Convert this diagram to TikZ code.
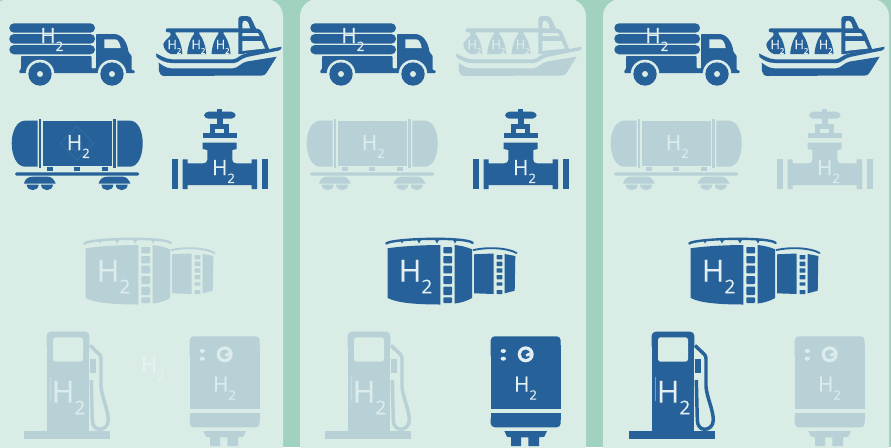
\documentclass[tikz,border=0pt]{standalone}
\usepackage{xcolor}
\usepackage{fontspec}
\usepackage{tikz}
\newfontfamily\htwofont[FakeBold=0.25]{Open Sans}
\definecolor{gutter}{HTML}{A0D2BF}
\definecolor{panel}{HTML}{D9ECE5}
\definecolor{icondark}{HTML}{26619A}
\definecolor{iconpale}{HTML}{B7D1D6}
\definecolor{textdark}{HTML}{E3EFF3}
\definecolor{textpale}{HTML}{DCECEC}
\definecolor{textfree}{HTML}{E4F1F5}
\newcommand{\htwotext}[1]{\fontsize{#1}{#1}\selectfont H\raisebox{-0.38em}{\fontsize{0.62\dimexpr#1pt\relax}{1pt}\selectfont 2}}

\begin{document}
\begin{tikzpicture}[x=0.75pt, y=-0.75pt,
  lit/.code={\colorlet{ic}{icondark}\colorlet{it}{textdark}},
  pale/.code={\colorlet{ic}{iconpale}\colorlet{it}{textpale}},
  gas/.style={text=it, inner sep=0pt, anchor=base west, font=\htwofont},
  sheet/.style={fill=panel, rounded corners=13pt},
  pics/truck/.style={code={
    \foreach \i/\ya/\yb in {1/23.3/32.7, 2/34/43.7, 3/45/54.3}
      \fill[ic, rounded corners=3.5pt] (9.3,\ya) rectangle (95,\yb);
    \fill[ic, rounded corners=0.6pt] (96,34) -- (113,34) .. controls (122,34) and (127,42) .. (128.5,52) -- (131.7,56) -- (131.7,70) -- (134.7,70.5) -- (134.7,73) -- (19.3,73) -- (19.3,70.5) -- (21,69) -- (21,56) -- (91.5,56) -- (91.5,68.3) -- (96,68.3) -- cycle;
    \fill[panel] (104.3,39.3) -- (115,39.3) .. controls (118,39.3) and (120,43) .. (120.7,48) -- (104.3,48) -- cycle;
    \foreach \cx in {40,112} {
      \fill[panel] (\cx,74) circle[radius=14.3];
      \fill[ic] (\cx,74) circle[radius=11.7];
      \fill[panel] (\cx,74) circle[radius=3];
    }
    \node[gas] (label) at (40,43) {\htwotext{15.75}};
  }},
  pics/ship/.style={code={
    \fill[ic, rounded corners=1.5pt] (165.7,28.3) rectangle (240,32.3);
    \fill[ic] (170,32) -- (175.5,32) -- (175.5,34) .. controls (179,38) and (182,46) .. (182.3,54) -- (171,54) .. controls (167,53) and (163,48) .. (163.3,44) .. controls (165,40) and (169,38) .. (170.7,35) -- cycle;
    \foreach \cx in {196.7,221}
      \fill[ic] (\cx-2.7,32) -- (\cx+2.7,32) -- (\cx+2.7,34) .. controls (\cx+6,38) and (\cx+9,46) .. (\cx+9.5,54) -- (\cx-9.5,54) .. controls (\cx-9,46) and (\cx-6,38) .. (\cx-2.7,34) -- cycle;
    \fill[ic] (238.3,33) -- (238.3,19) .. controls (238.3,17) and (240,16) .. (242,16) -- (247,16) .. controls (250,16) and (251,17.5) .. (252,20) -- (256,28.5) .. controls (260,29) and (262,31) .. (263,34) -- (269.5,50) -- (242,54) -- (238.3,54) -- cycle;
    \fill[panel] (242.3,28.3) -- (242.3,24) .. controls (242.3,21.5) and (243.5,20.7) .. (245.5,20.7) .. controls (247.5,20.7) and (248.3,22) .. (250,28.3) -- cycle;
    \fill[panel] (242.3,33) -- (258,33) -- (259.5,36) -- (242.3,36) -- cycle;
    \fill[panel] (242.3,41) -- (261.5,41) -- (265,48.5) -- (242.3,51) -- cycle;
    \fill[ic] (156,53.5) .. controls (160,55) and (165,59) .. (172,59.3) -- (233,59.3) .. controls (237,59.3) and (240,54.5) .. (246,53.5) -- (281.5,46.7) .. controls (282,48) and (281,50) .. (279,50.5) -- (247,57) .. controls (241,58.5) and (238,63) .. (234,63) -- (172,63) .. controls (165,63) and (160,60) .. (156.5,57) -- cycle;
    \fill[ic] (158.7,62.7) .. controls (162,65) and (166,68.3) .. (171,68.3) -- (233,68.3) .. controls (238,68.3) and (241,62.5) .. (247,61.5) -- (276.7,56.7) -- (267,72) .. controls (266,74.5) and (264,75.5) .. (262,75.5) -- (165,76) .. controls (161,76) and (159.5,74) .. (159,71) -- cycle;
    \foreach \i/\cx in {1/172.7,2/196.7,3/221}
      \node[gas] (label\i) at (\cx-5.5,49) {\htwotext{9.5}};
  }},
  pics/wagon/.style={code={
    \fill[ic] (37.7,120.7) -- (25,120.7) .. controls (17,120.7) and (11.7,131) .. (11.7,143.3) .. controls (11.7,156) and (17,166.7) .. (25,166.7) -- (37.7,166.7) -- cycle;
    \fill[ic] (39,119) rectangle (41.3,167.7);
    \fill[ic] (43.3,120.7) rectangle (112,166);
    \fill[ic] (113,119) rectangle (116,167.7);
    \fill[ic] (117.3,120.7) -- (130,120.7) .. controls (138,120.7) and (142.7,131) .. (142.7,143.3) .. controls (142.7,156) and (138,166.7) .. (130,166.7) -- (117.3,166.7) -- cycle;
    \foreach \cx in {47,74,102}
      \fill[ic] (\cx,167) rectangle (\cx+6,170.7);
    \fill[ic, rounded corners=1.2pt] (15,172.3) rectangle (139.3,175.7);
    \foreach \dx in {0,74.7} {
      \fill[ic] (24+\dx,183.5) .. controls (25+\dx,179) and (28+\dx,176.7) .. (33+\dx,176.7) -- (48+\dx,176.7) .. controls (51+\dx,176.7) and (54+\dx,179) .. (55.7+\dx,183.5) -- cycle;
      \fill[ic] (26.7+\dx,184.5) .. controls (27+\dx,192) and (38.4+\dx,192) .. (38.7+\dx,184.5) -- cycle;
      \fill[ic] (41+\dx,184.5) .. controls (41.3+\dx,192) and (52.7+\dx,192) .. (53+\dx,184.5) -- cycle;
    }
    \draw[it!15!ic, line width=0.3pt] (77,126.3) -- (93.7,143.3) -- (77,160.3) -- (60.3,143.3) -- cycle;
    \draw[it!15!ic, line width=0.3pt] (77,146) circle[radius=5.3];
    \node[gas] (label) at (66.5,150) {\htwotext{15.75}};
  }},
  pics/valve/.style={code={
    \fill[ic] (217,109.3) rectangle (222,113);
    \fill[ic, rounded corners=3.3pt] (204,111.7) rectangle (235.7,118.7);
    \fill[ic] (217.3,118) rectangle (222.7,124.5);
    \fill[ic] (210,124) rectangle (229.3,133.5);
    \fill[panel] (215,129) rectangle (224.3,132.7);
    \fill[ic] (202.7,133) rectangle (236.7,138);
    \fill[ic] (202.7,142.7) -- (236.7,142.7) -- (236.7,149) -- (232.3,150) -- (232.3,160) .. controls (232.3,162) and (234,163.3) .. (236,163.3) -- (251.7,163.3) -- (251.7,159.3) -- (257,159.3) -- (257,189) -- (251.7,189) -- (251.7,185) -- (187.7,185) -- (187.7,189) -- (182.7,189) -- (182.7,159.3) -- (187.7,159.3) -- (187.7,163.3) -- (203.3,163.3) .. controls (205.5,163.3) and (207.3,162) .. (207.3,160) -- (207.3,150) -- (202.7,149) -- cycle;
    \fill[ic] (172,159) rectangle (178,189);
    \fill[ic] (262,159) rectangle (268,189);
    \node[gas] (label) at (211.7,175) {\htwotext{15.75}};
  }},
  pics/tanks/.style={code={
    \fill[ic] (85.7,248.3) .. controls (100,246) and (125,245) .. (138.3,245) -- (138.3,304.5) .. controls (115,304.5) and (95,303) .. (85.7,298) -- cycle;
    \foreach \ya/\yb in {247/253.3, 256/263.3, 265.7/273.3, 276/284, 286.7/295, 297.3/303}
      \fill[ic, rounded corners=0.6pt] (141.3,\ya) rectangle (150,\yb);
    \fill[ic] (152.7,245) .. controls (158,245.5) and (165,247) .. (170,249.3) -- (170,298) .. controls (165,301) and (158,303) .. (152.7,303.5) -- cycle;
    \draw[ic, line width=1.8pt, line cap=round] (84.3,243.5) .. controls (90,238.3) and (165,236.5) .. (170.7,243);
    \foreach \cx in {100,117,135,153}
      \fill[ic] (\cx-2,240) -- (\cx+2,240) -- (\cx,243.5) -- cycle;
    \fill[ic] (172,254.3) -- (191.7,253.5) -- (191.7,294) -- (172,293.3) -- cycle;
    \foreach \ya/\yb in {255/259.3, 261.7/266, 268.3/272.7, 275/279.3, 282.3/285.7, 290/294}
      \fill[ic, rounded corners=0.3pt] (194.7,\ya) rectangle (200.3,\yb);
    \fill[ic] (202.7,254) -- (213.3,256) -- (212.7,290.7) -- (202.7,293.3) -- cycle;
    \draw[ic, line width=1.4pt, line cap=round] (171.5,250) .. controls (185,247) and (205,247.5) .. (214.5,253);
    \node[gas] (label) at (96.5,281.7) {\htwotext{23}};
  }},
  pics/pump/.style={code={
    \fill[ic] (24,431) rectangle (110,439);
    \fill[ic, rounded corners=3pt] (46.7,331.7) rectangle (89.3,350);
    \fill[ic] (46.7,340) rectangle (89.3,431);
    \fill[panel, rounded corners=2pt] (53,337.3) rectangle (83,361.7);
    \fill[panel!45!ic] (50.4,377) rectangle (50.7,401);
    \draw[ic, line width=2.6pt, line join=round] (90,345.5) -- (99.5,354.5) .. controls (100.5,355.5) and (101,357) .. (101,359) -- (101,386.7) .. controls (102,398) and (108.3,410) .. (108.3,420) .. controls (108.3,426) and (104,429.3) .. (99.5,429.3) .. controls (95,429.3) and (92.3,425) .. (92.3,420) -- (91.3,380);
    \fill[ic] (90.3,359.3) -- (96.3,359.3) -- (96.3,373.3) -- (90.3,373.3) -- cycle;
    \node[gas] (label) at (51.5,402.7) {\htwotext{23}};
  }},
  pics/heater/.style={code={
    \fill[ic, rounded corners=3pt] (189.7,336.3) rectangle (259.7,360);
    \fill[ic] (189.7,345) rectangle (259.7,409);
    \fill[ic] (189.7,412.7) rectangle (259.7,420);
    \fill[ic, rounded corners=3pt] (189.7,415) rectangle (259.7,427.3);
    \fill[ic] (203.3,431) -- (246,431) -- (243.3,436.7) -- (238,437.3) -- (238,446) -- (227.3,446) -- (227.3,437.3) -- (220,437.3) -- (220,446) -- (210,446) -- (210,437.3) -- (206,436.7) -- cycle;
    \fill[it] (224.7,354.3) circle[radius=8];
    \fill[ic] (224.7,354.3) circle[radius=4.8];
    \fill[it] (224.7,354.3) -- (229.5,352) -- (229.5,355.5) -- (225.5,356.5) -- cycle;
    \fill[it] (202.3,351) ellipse[x radius=2.7, y radius=2];
    \fill[it] (202.3,358.7) ellipse[x radius=2.7, y radius=2];
    \node[gas] (label) at (212.7,391.7) {\htwotext{15.75}};
  }}
]
  \useasboundingbox (0,0) rectangle (891,447);
  \clip (0,0) rectangle (891,447);
  \fill[gutter] (0,0) rectangle (891,447);

  \path[sheet] (-8,-1) rectangle (283,470);
  \path[sheet] (300,-1) rectangle (586,470);
  \path[sheet] (603,-1) rectangle (889,470);

  % first panel
  \pic[lit] (truckA) at (0,0) {truck};
  \pic[lit] (shipA) at (0,0) {ship};
  \pic[lit] (wagonA) at (0,0) {wagon};
  \pic[lit] (valveA) at (0,0) {valve};
  \pic[pale] (tanksA) at (0,0) {tanks};
  \pic[pale] (pumpA) at (0,0) {pump};
  \pic[pale] (heaterA) at (0,0) {heater};
  \node[gas, text=textfree] (freegas) at (140.5,372) {\htwotext{16.5}};

  % second panel
  \pic[lit] (truckB) at (301,0) {truck};
  \pic[pale] (shipB) at (300,0) {ship};
  \pic[pale] (wagonB) at (295,0) {wagon};
  \pic[lit] (valveB) at (301,0) {valve};
  \pic[lit] (tanksB) at (302,0) {tanks};
  \pic[pale] (pumpB) at (301,0) {pump};
  \pic[lit] (heaterB) at (301,0) {heater};

  % third panel
  \pic[lit] (truckC) at (605,0) {truck};
  \pic[lit] (shipC) at (603,0) {ship};
  \pic[pale] (wagonC) at (599,0) {wagon};
  \pic[pale] (valveC) at (605,0) {valve};
  \pic[lit] (tanksC) at (605,0) {tanks};
  \pic[lit] (pumpC) at (605,0) {pump};
  \pic[pale] (heaterC) at (605,0) {heater};
\end{tikzpicture}
\end{document}
